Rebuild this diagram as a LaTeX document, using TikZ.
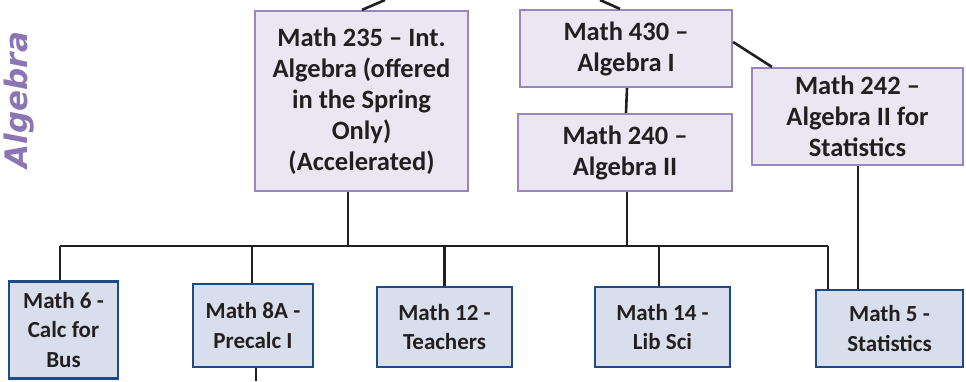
\documentclass[tikz,border=0pt]{standalone}
\usepackage{fontspec}
\setmainfont{Carlito}
\newfontfamily\algfont{DejaVu Sans}
\definecolor{ink}{HTML}{231F20}
\definecolor{topfill}{HTML}{EAE7F2}
\definecolor{topdraw}{HTML}{9A86BE}
\definecolor{botfill}{HTML}{D9DEEC}
\definecolor{botdraw}{HTML}{1D4A8A}
\definecolor{algcol}{HTML}{8B76B5}
\tikzset{
  topbox/.style={draw=topdraw, fill=topfill, line width=2.2pt, inner sep=0pt, align=center,
    font=\fontsize{26.5}{31}\selectfont\bfseries, text=ink},
  botbox/.style={draw=botdraw, fill=botfill, line width=2.6pt, inner sep=0pt, align=center,
    font=\fontsize{23}{29.5}\selectfont\bfseries, text=ink},
  conn/.style={draw=ink, line width=2.6pt}
}
\begin{document}
\begin{tikzpicture}[x=1pt,y=-1pt]
\useasboundingbox (0,0) rectangle (966,381);
\node[rotate=90, text=algcol, font=\algfont\fontsize{31}{33}\selectfont\bfseries\itshape] (alg) at (19,100) {Algebra};
% top boxes
\node[topbox, minimum width=213pt, minimum height=180pt] (n235) at (361.5,101) {Math 235 – Int.\\Algebra (offered\\in the Spring\\Only)\\(Accelerated)};
\node[topbox, minimum width=212pt, minimum height=77pt] (n430) at (626,48.5) {Math 430 –\\Algebra I};
\node[topbox, minimum width=214pt, minimum height=77pt] (n240) at (625,152.5) {Math 240 –\\Algebra II};
\node[topbox, minimum width=211pt, minimum height=97pt] (n242) at (857.5,116.5) {Math 242 –\\Algebra II for\\Statistics};
% bottom boxes
\node[botbox, minimum width=109pt, minimum height=97pt] (n6) at (63.5,330) {Math 6 -\\Calc for\\Bus};
\node[botbox, minimum width=120pt, minimum height=83pt] (n8) at (253,325.5) {Math 8A -\\Precalc I};
\node[botbox, minimum width=135pt, minimum height=80pt] (n12) at (444.5,327) {Math 12 -\\Teachers};
\node[botbox, minimum width=135pt, minimum height=80pt] (n14) at (662.5,327) {Math 14 -\\Lib Sci};
\node[botbox, minimum width=147pt, minimum height=77pt] (n5) at (889.5,328.5) {Math 5 -\\Statistics};
% free ends
\coordinate (t235) at (385,0);
\coordinate (t430) at (600,0);
\coordinate (busL) at (60,246);
\coordinate (busR) at (828,246);
\coordinate (b8) at (256,381);
% connectors
\draw[conn] ([xshift=0.5pt]n235.north) -- (t235);
\draw[conn] ([xshift=-6pt]n430.north) -- (t430);
\draw[conn] ([xshift=1pt]n430.south) -- ([xshift=1pt]n240.north);
\draw[conn] ([yshift=6.5pt]n430.east) -- ([xshift=21pt]n242.north west);
\draw[conn] ([xshift=0.5pt]n242.south) -- ([xshift=0.5pt]n242.south |- n5.north);
\draw[conn] (busL) -- (busR);
\draw[conn] ([xshift=-13.5pt]n235.south) -- ([xshift=-13.5pt]n235.south |- busL);
\draw[conn] ([xshift=2pt]n240.south) -- ([xshift=2pt]n240.south |- busL);
\draw[conn] (busL) -- (busL |- n6.north);
\draw[conn] ([xshift=-1pt]n8.north) -- ([xshift=-1pt]n8.north |- busL);
\draw[conn] (n12.north) -- (n12.north |- busL);
\draw[conn] ([xshift=-3.5pt]n14.north) -- ([xshift=-3.5pt]n14.north |- busL);
\draw[conn] (busR) -- (busR |- n5.north);
\draw[conn] ([xshift=3pt]n8.south) -- (b8);
\end{tikzpicture}
\end{document}
